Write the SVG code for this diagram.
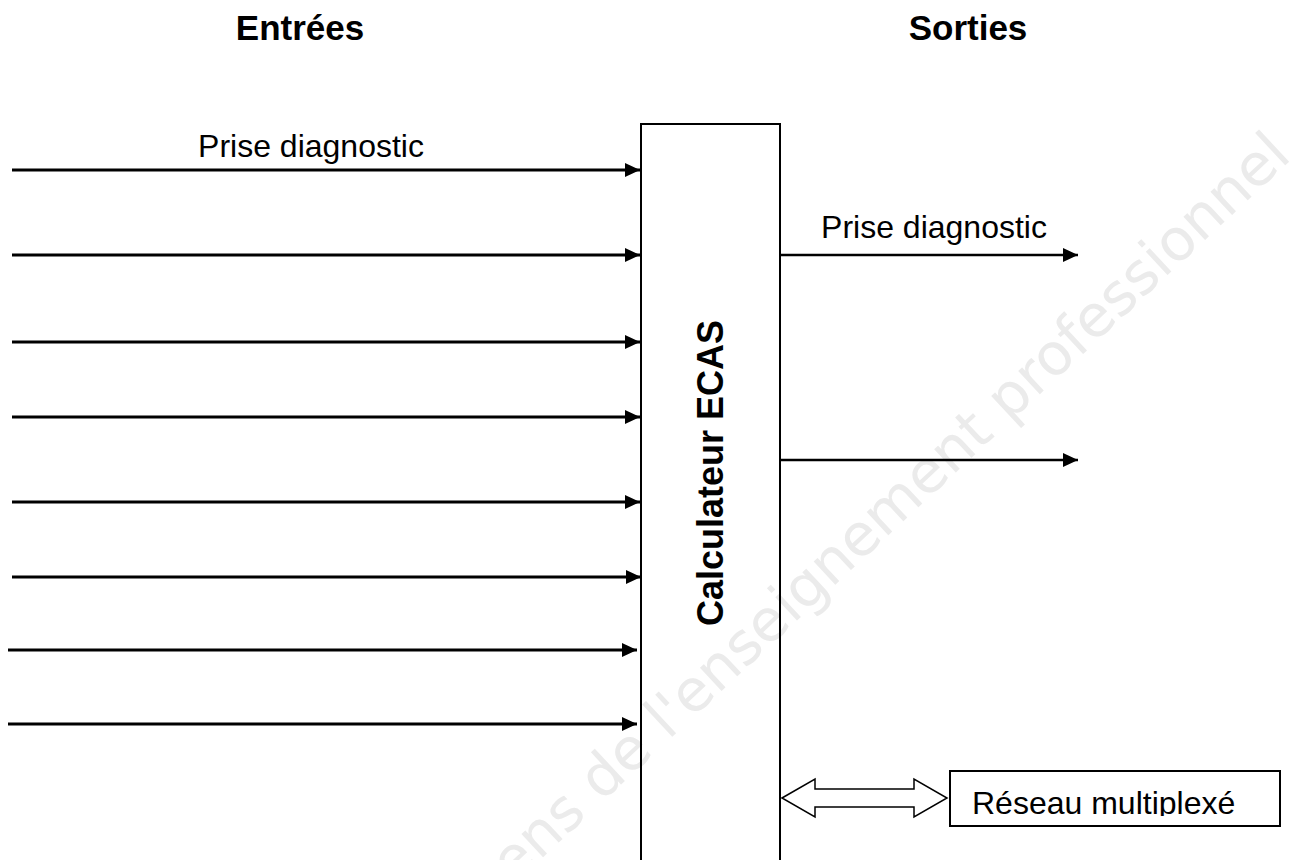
<svg xmlns="http://www.w3.org/2000/svg" width="1289" height="860" viewBox="0 0 1289 860">
<style>
.lbl{font-family:"Liberation Sans",Arial,sans-serif;fill:#000}
.hdr{font-size:35px;font-weight:bold}
.ecas{font-size:36px;font-weight:bold}
.txt{font-size:32px}
.in{stroke:#000;stroke-width:3;fill:none}
.out{stroke:#000;stroke-width:2.5;fill:none}
.box{fill:none;stroke:#000;stroke-width:2}
.wm{font-family:"DejaVu Sans",sans-serif;font-weight:normal;font-size:58px;fill:#ebebeb}
</style>
<defs>
<marker id="ah" markerUnits="userSpaceOnUse" markerWidth="16" markerHeight="15" refX="15" refY="7" orient="auto">
<path d="M0,0 L15,7 L0,14 Z" fill="#000"/>
</marker>
<clipPath id="rc"><rect x="950" y="771" width="330" height="45"/></clipPath>
</defs>
<rect width="1289" height="860" fill="#fff"/>
<text class="wm" transform="translate(1293,158) rotate(-43)" text-anchor="end">ens de l'enseignement professionnel</text>
<g id="headers">
<text class="lbl hdr" x="300" y="40" text-anchor="middle">Entrées</text>
<text class="lbl hdr" x="968" y="40" text-anchor="middle">Sorties</text>
</g>
<g id="ecas">
<rect class="box" x="641" y="124" width="139" height="760"/>
<text class="lbl ecas" transform="translate(723,473) rotate(-90)" text-anchor="middle">Calculateur ECAS</text>
</g>
<g id="reseau">
<rect class="box" x="950" y="771" width="330" height="55"/>
<text class="lbl txt" x="972" y="814" clip-path="url(#rc)">Réseau multiplexé</text>
</g>
<g id="connectors">
<line class="in" x1="12" y1="170" x2="640" y2="170" marker-end="url(#ah)"/>
<line class="in" x1="12" y1="255" x2="640" y2="255" marker-end="url(#ah)"/>
<line class="in" x1="12" y1="342" x2="640" y2="342" marker-end="url(#ah)"/>
<line class="in" x1="12" y1="417" x2="640" y2="417" marker-end="url(#ah)"/>
<line class="in" x1="12" y1="502" x2="640" y2="502" marker-end="url(#ah)"/>
<line class="in" x1="12" y1="577" x2="641" y2="577" marker-end="url(#ah)"/>
<line class="in" x1="8" y1="650" x2="637" y2="650" marker-end="url(#ah)"/>
<line class="in" x1="8" y1="724" x2="637" y2="724" marker-end="url(#ah)"/>
<line class="out" x1="780" y1="255" x2="1078" y2="255" marker-end="url(#ah)"/>
<line class="out" x1="780" y1="460" x2="1078" y2="460" marker-end="url(#ah)"/>
<polygon points="782,798 815,779 815,789 914,789 914,779 947,798 914,817 914,807 815,807 815,817" fill="#fff" stroke="#000" stroke-width="1.5"/>
<text class="lbl txt" x="311" y="157" text-anchor="middle">Prise diagnostic</text>
<text class="lbl txt" x="934" y="238" text-anchor="middle">Prise diagnostic</text>
</g>
</svg>
